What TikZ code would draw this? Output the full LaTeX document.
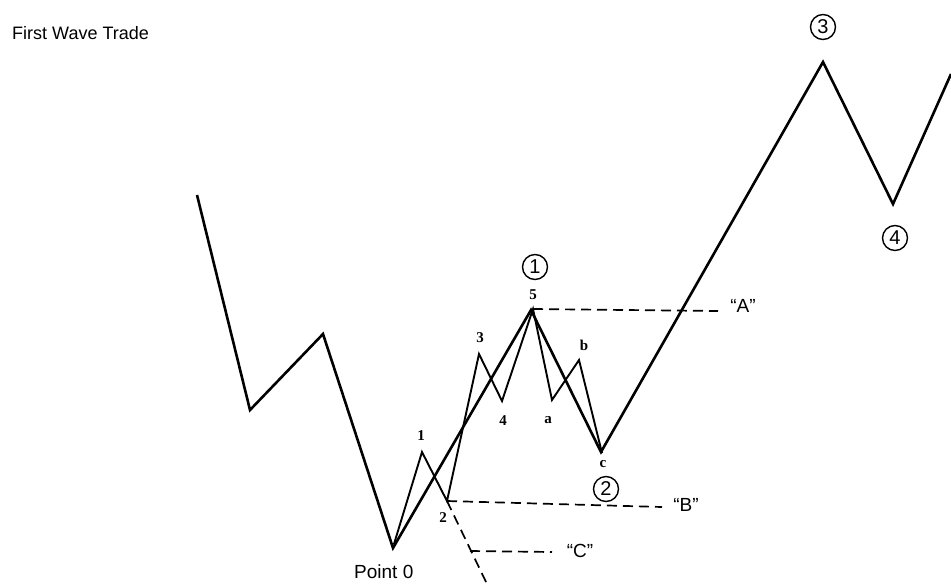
\documentclass[tikz,border=0pt]{standalone}
\usepackage{fontspec}
\setmainfont{Liberation Sans}
\newfontfamily\smallfnt{Liberation Serif}
\begin{document}
\begin{tikzpicture}[x=1pt,y=-1pt,
  mainline/.style={line width=2.6pt,line join=miter},
  subline/.style={line width=1.9pt,line join=miter},
  dashline/.style={line width=1.7pt,dash pattern=on 10pt off 6pt},
  lab/.style={font=\fontsize{18}{18}\selectfont,inner sep=0pt},
  sml/.style={font=\smallfnt\bfseries\fontsize{15}{15}\selectfont,inner sep=0pt},
  circ/.style={draw,circle,line width=1.4pt,inner sep=1pt,minimum size=25pt,font=\fontsize{20}{20}\selectfont}]
\useasboundingbox (0,0) rectangle (951,584);
% main wave points
\coordinate (m0) at (197,195);
\coordinate (m1) at (250,410);
\coordinate (m2) at (323,334);
\coordinate (p0) at (393,548);
\coordinate (w1) at (531,310);
\coordinate (w2) at (601,452);
\coordinate (w3) at (823,62);
\coordinate (w4) at (893,204);
\coordinate (w5) at (951,74);
% sub-wave points
\coordinate (s0) at (394,544);
\coordinate (s1) at (422,452);
\coordinate (s2) at (447,501);
\coordinate (s3) at (479,354);
\coordinate (s4) at (502,401);
\coordinate (s5) at (533,309);
\coordinate (sa) at (552,400);
\coordinate (sb) at (579,360);
\coordinate (sc) at (602,453);
% dashed ends
\coordinate (ae) at (718,311);
\coordinate (be) at (662,507);
\coordinate (cd) at (487,584);
\coordinate (cs) at (470,551);
\coordinate (ce) at (552,552);
\draw[mainline] (m0) -- (m1) -- (m2) -- (p0) -- (w1) -- (w2) -- (w3) -- (w4) -- (w5);
\draw[subline] (s0) -- (s1) -- (s2) -- (s3) -- (s4) -- (s5) -- (sa) -- (sb) -- (sc);
\draw[dashline] (s5) -- (ae);
\draw[dashline] (s2) -- (be);
\draw[dashline] (s2) -- (cd);
\draw[dashline] (cs) -- (ce);
% labels
\node[lab,anchor=west] (title) at (12,33) {First Wave Trade};
\node[lab,font=\fontsize{19}{19}\selectfont,anchor=west] (pt0) at (354,572) {Point 0};
\node[lab,font=\fontsize{19}{19}\selectfont] (la) at (743,306) {“A”};
\node[lab,font=\fontsize{19}{19}\selectfont] (lb) at (686,505) {“B”};
\node[lab,font=\fontsize{19}{19}\selectfont] (lc) at (580,551) {“C”};
\node[sml] (n1) at (421,436) {1};
\node[sml] (n2) at (443,518) {2};
\node[sml] (n3) at (480,338) {3};
\node[sml] (n4) at (503,421) {4};
\node[sml] (n5) at (533,295) {5};
\node[sml] (na) at (548,420) {a};
\node[sml] (nb) at (584,345) {b};
\node[sml] (nc) at (603,464) {c};
\node[circ] (c1) at (535,267) {1};
\node[circ] (c2) at (606,489) {2};
\node[circ] (c3) at (823,27) {3};
\node[circ] (c4) at (895,238) {4};
\end{tikzpicture}
\end{document}
